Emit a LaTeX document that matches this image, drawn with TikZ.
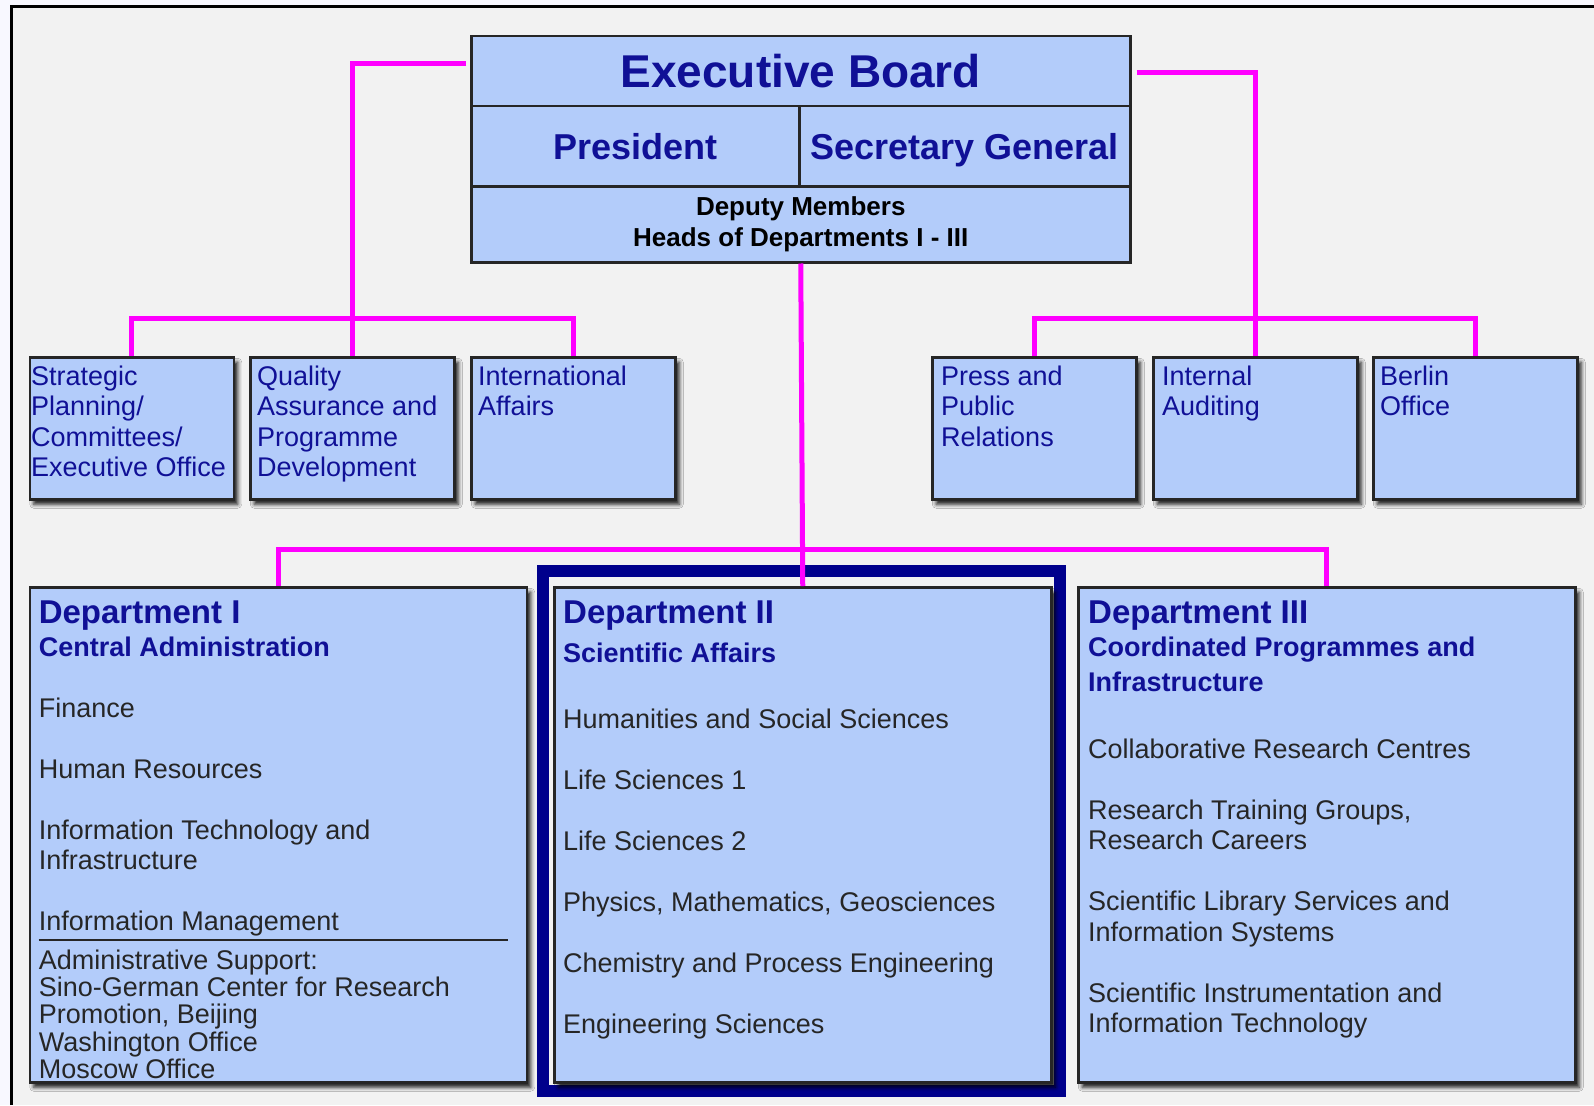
\documentclass[tikz,border=0pt]{standalone}
\usepackage{fontspec}
\setmainfont{Liberation Sans}
\usetikzlibrary{shadows.blur}
\definecolor{boxblue}{RGB}{179,204,250}
\definecolor{navytext}{RGB}{16,16,150}
\definecolor{framenavy}{RGB}{0,0,140}
\definecolor{pagegrey}{RGB}{242,242,242}
\definecolor{outside}{RGB}{248,248,255}
\definecolor{linkpink}{RGB}{255,0,255}

\begin{document}
\begin{tikzpicture}[
	x=1pt, y=-1pt,
	link/.style={draw=linkpink, line width=5pt},
	cell/.style={rectangle, draw=black!85, line width=2.5pt, fill=boxblue, inner sep=0pt, anchor=north west},
	unit/.style={cell, minimum width=204pt, minimum height=142pt, blur shadow={shadow xshift=4pt, shadow yshift=-5pt, shadow blur radius=4pt, shadow opacity=90}},
	dept/.style={unit, minimum width=497pt, minimum height=495pt},
	unitname/.style={anchor=north west, inner sep=0pt, align=left, text=navytext, font=\fontsize{27}{30.5}\selectfont},
	depthead/.style={anchor=north west, inner sep=0pt, text=navytext, font=\bfseries\fontsize{33}{36}\selectfont},
	deptsub/.style={anchor=north west, inner sep=0pt, align=left, text=navytext, font=\bfseries\fontsize{27}{35}\selectfont},
	deptitems/.style={anchor=north west, inner sep=0pt, align=left, text=black!85, font=\fontsize{27}{30.5}\selectfont}
]
\useasboundingbox (0,0) rectangle (1594,1105);
\fill[outside] (0,0) rectangle (1594,1105);
\fill[pagegrey] (11,7) rectangle (1594,1105);
\draw[black, line width=3pt] (11,1105) -- (11,7) -- (1594,7);

% executive board
\node[cell, minimum width=659pt, minimum height=70pt, text=navytext, font=\bfseries\fontsize{46}{50}\selectfont] (eb) at (470,35) {Executive Board};
\node[cell, minimum width=328pt, minimum height=80pt, text height=26pt, text depth=0pt, text=navytext, font=\bfseries\fontsize{36}{40}\selectfont] (pres) at (470,105) {President};
\node[cell, minimum width=331pt, minimum height=80pt, text height=26pt, text depth=0pt, text=navytext, font=\bfseries\fontsize{36}{40}\selectfont] (sec) at (798,105) {Secretary General};
\node[cell, minimum width=659pt, minimum height=76pt, align=center, font=\bfseries\fontsize{26}{31}\selectfont] (dep) at (470,185) {Deputy Members\\Heads of Departments I - III};

% staff units
\node[unit] (sp) at (28.5,356) {};
\node[unitname] (sptext) at (31,365.6) {Strategic\\Planning/\\Committees/\\Executive Office};
\node[unit] (qa) at (249,356) {};
\node[unitname] (qatext) at (257,365.6) {Quality\\Assurance and\\Programme\\Development};
\node[unit] (ia) at (470,356) {};
\node[unitname] (iatext) at (478,365.6) {International\\Affairs};
\node[unit] (pr) at (931,356) {};
\node[unitname] (prtext) at (941,365.6) {Press and\\Public\\Relations};
\node[unit] (au) at (1152,356) {};
\node[unitname] (autext) at (1162,365.6) {Internal\\Auditing};
\node[unit] (be) at (1372,356) {};
\node[unitname] (betext) at (1380,365.6) {Berlin\\Office};

% departments
\draw[framenavy, line width=12pt] (543,571) rectangle (1060,1091);
\node[dept] (d1) at (28.5,586) {};
\node[dept] (d2) at (553,586) {};
\node[dept] (d3) at (1077,586) {};

\node[depthead] (d1head) at (38.6,601) {Department I};
\node[deptsub] (d1sub) at (38.6,636.6) {Central Administration};
\node[deptitems] (d1items) at (38.6,697.6) {Finance\\[30.5pt]Human Resources\\[30.5pt]Information Technology and\\Infrastructure\\[30.5pt]Information Management};
\draw[black!85, line width=2.5pt] (38.6,940) -- (508,940);
\node[deptitems, font=\fontsize{27}{27.3}\selectfont] (d1admin) at (38.6,949.6) {Administrative Support:\\Sino-German Center for Research\\Promotion, Beijing\\Washington Office\\Moscow Office};

\node[depthead] (d2head) at (563,601) {Department II};
\node[deptsub] (d2sub) at (563,642.6) {Scientific Affairs};
\node[deptitems] (d2items) at (563,708.6) {Humanities and Social Sciences\\[30.5pt]Life Sciences 1\\[30.5pt]Life Sciences 2\\[30.5pt]Physics, Mathematics, Geosciences\\[30.5pt]Chemistry and Process Engineering\\[30.5pt]Engineering Sciences};

\node[depthead] (d3head) at (1088,601) {Department III};
\node[deptsub] (d3sub) at (1088,636.6) {Coordinated Programmes and\\Infrastructure};
\node[deptitems] (d3items) at (1088,738.6) {Collaborative Research Centres\\[30.5pt]Research Training Groups,\\Research Careers\\[30.5pt]Scientific Library Services and\\Information Systems\\[30.5pt]Scientific Instrumentation and\\Information Technology};

% connectors
\coordinate (lbar) at (347,318);
\coordinate (rbar) at (1258,318);
\coordinate (dbar) at (799,549);
\draw[link] ([xshift=-4pt, yshift=8pt]eb.west) -| (qa.north);
\draw[link] (sp.north) |- (lbar) -| (ia.north);
\draw[link] ([xshift=5pt, yshift=-1pt]eb.east) -| (au.north);
\draw[link] (pr.north) |- (rbar) -| (be.north);
\draw[link] (dep.south) -- (d2.north);
\draw[link] (d1.north) |- (dbar) -| (d3.north);
\end{tikzpicture}
\end{document}
